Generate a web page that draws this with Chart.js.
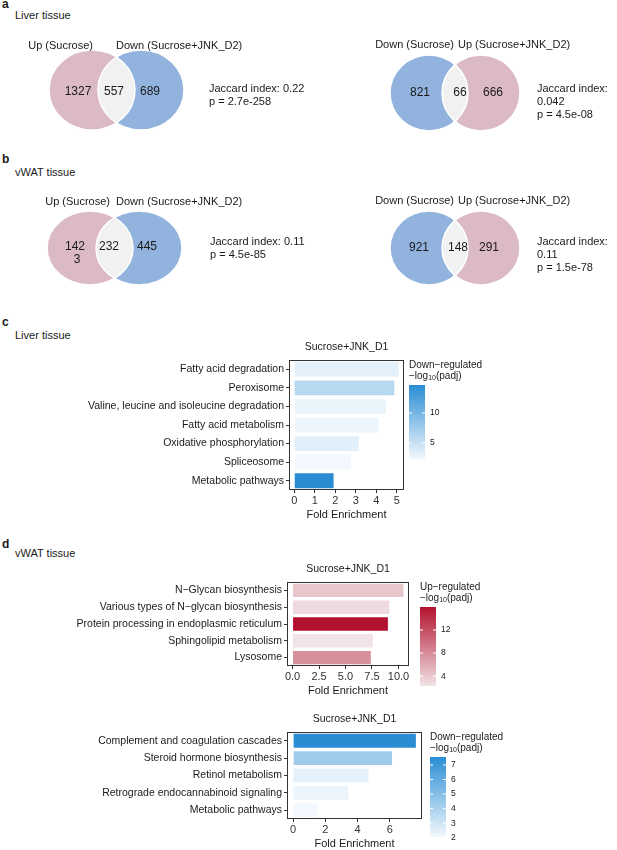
<!DOCTYPE html>
<html>
<head>
<meta charset="utf-8">
<title>Sucrose / JNK overlap and KEGG enrichment</title>
<script src="https://cdn.jsdelivr.net/npm/chart.js@4.4.1/dist/chart.umd.min.js"></script>
<style>
  body { margin: 0; background: #fff; }
  #fig { position: relative; width: 617px; height: 850px; overflow: hidden;
         font-family: "Liberation Sans", Arial, sans-serif; color: #1a1a1a; }
  #fig canvas { position: absolute; left: 0; }
  .txt { position: absolute; font-size: 11px; line-height: 13px; white-space: nowrap; }
  .tag { position: absolute; font-size: 12px; font-weight: bold; line-height: 14px; }
</style>
</head>
<body>
<div id="fig">
  <div class="tag" style="left:2px;top:-3px">a</div>
  <div class="txt" style="left:15px;top:9px">Liver tissue</div>
  <div class="tag" style="left:2px;top:152px">b</div>
  <div class="txt" style="left:15px;top:166px">vWAT tissue</div>
  <div class="tag" style="left:2px;top:315px">c</div>
  <div class="txt" style="left:15px;top:329px">Liver tissue</div>
  <div class="tag" style="left:2px;top:537px">d</div>
  <div class="txt" style="left:15px;top:547px">vWAT tissue</div>

  <canvas id="venn" width="617" height="330" style="top:0"></canvas>
  <canvas id="liverKegg" width="617" height="192" style="top:330px"></canvas>
  <canvas id="vwatUpKegg" width="617" height="148" style="top:550px"></canvas>
  <canvas id="vwatDownKegg" width="617" height="151" style="top:700px"></canvas>
</div>

<script>
// ---- a / b: gene overlaps (only first set, shared, only second set)
const vennSetNames = [
    ['Up (Sucrose)', 'Down (Sucrose+JNK_D2)'],
    ['Down (Sucrose)', 'Up (Sucrose+JNK_D2)'],
    ['Up (Sucrose)', 'Down (Sucrose+JNK_D2)'],
    ['Down (Sucrose)', 'Up (Sucrose+JNK_D2)']
];
const liverUpVsDown = [1327, 557, 689];
const liverDownVsUp = [821, 66, 666];
const vwatUpVsDown = [1423, 232, 445];
const vwatDownVsUp = [921, 148, 291];
const jaccardIndex = ['0.22', '0.042', '0.11', '0.11'];
const pValue = ['2.7e-258', '4.5e-08', '4.5e-85', '1.5e-78'];

// ---- c / d: KEGG enrichment
const liverTerms = ['Fatty acid degradation', 'Peroxisome', 'Valine, leucine and isoleucine degradation',
    'Fatty acid metabolism', 'Oxidative phosphorylation', 'Spliceosome', 'Metabolic pathways'];
const liverFold = [5.1, 4.88, 4.47, 4.1, 3.14, 2.75, 1.92];
const liverPadj = [3.1, 6.0, 2.8, 2.7, 3.4, 2.3, 14.7];

const vwatUpTerms = ['N\u2212Glycan biosynthesis', 'Various types of N\u2212glycan biosynthesis',
    'Protein processing in endoplasmic reticulum', 'Sphingolipid metabolism', 'Lysosome'];
const vwatUpFold = [10.47, 9.15, 9.0, 7.58, 7.39];
const vwatUpPadj = [4.2, 2.8, 16.0, 2.3, 7.8];

const vwatDownTerms = ['Complement and coagulation cascades', 'Steroid hormone biosynthesis',
    'Retinol metabolism', 'Retrograde endocannabinoid signaling', 'Metabolic pathways'];
const vwatDownFold = [7.62, 6.14, 4.68, 3.43, 1.52];
const vwatDownPadj = [7.55, 4.3, 2.4, 2.2, 2.05];

const liverTicks = [0, 1, 2, 3, 4, 5];
const vwatUpTicks = [0, 2.5, 5, 7.5, 10];
const vwatDownTicks = [0, 2, 4, 6];
const liverBreaks = [5, 10];
const vwatUpBreaks = [4, 8, 12];
const vwatDownBreaks = [2, 3, 4, 5, 6, 7];

const FONT = '"Liberation Sans", Arial, sans-serif';
const PINK = '#dbbac6';
const BLUE = '#91b3dd';
const SHARED = '#f1f1f1';

// where each diagram sits on the venn canvas (pixel-like units)
const vennLayout = [
    {cx: [92, 141], rx: 43, cy: 90, ry: 40, labelY: 46, labelEnd: 93, labelStart: 116,
     num: [[78, 92], [114, 92], [150, 92]], text: [209, 81.5], wrapText: false},
    {cx: [429, 481], rx: 39, cy: 93, ry: 38, labelY: 45, labelEnd: 454, labelStart: 458,
     num: [[420, 93], [460, 93], [493, 93]], text: [537, 81.5], wrapText: true},
    {cx: [90, 139], rx: 43, cy: 248, ry: 37, labelY: 202, labelEnd: 110, labelStart: 116,
     num: [[75, 247], [109, 247], [147, 247]], text: [210, 234.5], wrapText: false, wrapFirst: 3},
    {cx: [429, 481], rx: 39, cy: 248, ry: 37, labelY: 201, labelEnd: 454, labelStart: 458,
     num: [[419, 248], [458, 248], [489, 248]], text: [537, 234.5], wrapText: true}
];
const vennCounts = [liverUpVsDown, liverDownVsUp, vwatUpVsDown, vwatDownVsUp];

function hex(c) { return [1, 3, 5].map(i => parseInt(c.slice(i, i + 2), 16)); }
function mix(lo, hi, t) {
    const a = hex(lo), b = hex(hi);
    return 'rgb(' + a.map((v, i) => Math.round(v + (b[i] - v) * t)).join(',') + ')';
}
function setColour(name) { return name.startsWith('Up') ? PINK : BLUE; }

function ellipse(ctx, x, y, rx, ry) {
    ctx.beginPath();
    ctx.ellipse(x, y, rx, ry, 0, 0, Math.PI * 2);
}

const vennPlugin = {
    id: 'vennShapes',
    beforeDatasetsDraw(chart) {
        const {ctx, scales: {x, y}} = chart;
        ctx.save();
        vennLayout.forEach((v, i) => {
            const cy = y.getPixelForValue(v.cy);
            const ry = Math.abs(y.getPixelForValue(v.ry) - y.getPixelForValue(0));
            const rx = x.getPixelForValue(v.rx) - x.getPixelForValue(0);
            const ax = x.getPixelForValue(v.cx[0]), bx = x.getPixelForValue(v.cx[1]);
            ctx.fillStyle = setColour(vennSetNames[i][0]);
            ellipse(ctx, ax, cy, rx, ry); ctx.fill();
            ctx.fillStyle = setColour(vennSetNames[i][1]);
            ellipse(ctx, bx, cy, rx, ry); ctx.fill();
            ctx.save();
            ellipse(ctx, ax, cy, rx, ry); ctx.clip();
            ctx.fillStyle = SHARED;
            ellipse(ctx, bx, cy, rx, ry); ctx.fill();
            ctx.restore();
            ctx.strokeStyle = '#fff';
            ctx.lineWidth = 1.5;
            ellipse(ctx, ax, cy, rx, ry); ctx.stroke();
            ellipse(ctx, bx, cy, rx, ry); ctx.stroke();

            ctx.fillStyle = '#1a1a1a';
            ctx.font = '11px ' + FONT;
            ctx.textBaseline = 'middle';
            const ly = y.getPixelForValue(v.labelY);
            ctx.textAlign = 'right';
            ctx.fillText(vennSetNames[i][0], x.getPixelForValue(v.labelEnd), ly);
            ctx.textAlign = 'left';
            ctx.fillText(vennSetNames[i][1], x.getPixelForValue(v.labelStart), ly);
        });
        ctx.restore();
    },
    afterDatasetsDraw(chart) {
        const {ctx} = chart;
        ctx.save();
        ctx.fillStyle = '#1a1a1a';
        ctx.font = '12px ' + FONT;
        ctx.textAlign = 'center';
        ctx.textBaseline = 'middle';
        vennLayout.forEach((v, i) => {
            chart.getDatasetMeta(i).data.forEach((pt, j) => {
                const s = String(vennCounts[i][j]);
                if (j === 0 && v.wrapFirst) {
                    ctx.fillText(s.slice(0, v.wrapFirst), pt.x, pt.y);
                    ctx.fillText(s.slice(v.wrapFirst), pt.x + 2, pt.y + 13);
                } else {
                    ctx.fillText(s, pt.x, pt.y);
                }
            });
        });
        ctx.restore();
    }
};

new Chart(document.getElementById('venn'), {
    type: 'scatter',
    data: {
        datasets: vennLayout.map(v => ({
            data: v.num.map(p => ({x: p[0], y: p[1]})),
            pointRadius: 0
        }))
    },
    options: {
        responsive: false,
        animation: false,
        events: [],
        layout: {padding: 0},
        plugins: {legend: {display: false}, tooltip: {enabled: false}},
        scales: {
            x: {type: 'linear', min: 0, max: 617, display: false},
            y: {type: 'linear', min: 0, max: 330, reverse: true, display: false}
        }
    },
    plugins: [vennPlugin]
});

// Jaccard / p-value notes next to each diagram
vennLayout.forEach((v, i) => {
    const d = document.createElement('div');
    d.className = 'txt';
    d.style.left = v.text[0] + 'px';
    d.style.top = v.text[1] + 'px';
    d.innerHTML = v.wrapText
        ? 'Jaccard index:<br>' + jaccardIndex[i] + '<br>p = ' + pValue[i]
        : 'Jaccard index: ' + jaccardIndex[i] + '<br>p = ' + pValue[i];
    document.getElementById('fig').appendChild(d);
});

// panel frame, panel title and the colour bar legend
const framePlugin = {
    id: 'frame',
    afterDraw(chart, args, o) {
        const {ctx, chartArea: a} = chart;
        ctx.save();
        ctx.strokeStyle = '#333';
        ctx.lineWidth = 1;
        ctx.strokeRect(a.left + 0.5, a.top + 0.5, a.right - a.left - 1, a.bottom - a.top - 1);

        ctx.fillStyle = '#1a1a1a';
        ctx.font = '10.5px ' + FONT;
        ctx.textAlign = 'center';
        ctx.textBaseline = 'middle';
        ctx.fillText(o.title, (a.left + a.right) / 2, a.top - 13);

        const x0 = a.right + o.barX, y0 = a.top + 25;
        ctx.textAlign = 'left';
        ctx.font = '10px ' + FONT;
        ctx.fillText(o.legend, x0, a.top + 5);
        let tx = x0;
        const ly = a.top + 16;
        ctx.fillText('\u2212log', tx, ly);
        tx += ctx.measureText('\u2212log').width;
        ctx.font = '7px ' + FONT;
        ctx.fillText('10', tx, ly + 2);
        tx += ctx.measureText('10').width;
        ctx.font = '10px ' + FONT;
        ctx.fillText('(padj)', tx, ly);

        const g = ctx.createLinearGradient(0, y0, 0, y0 + o.barH);
        g.addColorStop(0, o.high);
        g.addColorStop(1, o.low);
        ctx.fillStyle = g;
        ctx.fillRect(x0, y0, 16, o.barH);

        ctx.strokeStyle = '#fff';
        ctx.fillStyle = '#1a1a1a';
        ctx.font = '8.5px ' + FONT;
        o.breaks.forEach(b => {
            const yy = y0 + o.barH * (o.hi - b) / (o.hi - o.lo);
            ctx.beginPath();
            ctx.moveTo(x0, yy); ctx.lineTo(x0 + 3, yy);
            ctx.moveTo(x0 + 13, yy); ctx.lineTo(x0 + 16, yy);
            ctx.stroke();
            ctx.fillText(String(b), x0 + 21, yy);
        });
        ctx.restore();
    }
};

function enrichment(id, terms, fold, padj, o) {
    const lo = Math.min(...padj), hi = Math.max(...padj);
    const top = Math.max(...fold);
    const fill = padj.map(v => mix(o.low, o.high, (v - lo) / (hi - lo)));
    return new Chart(document.getElementById(id), {
        type: 'bar',
        data: {
            labels: terms,
            datasets: [{data: fold, backgroundColor: fill, barPercentage: 0.8, categoryPercentage: 1}]
        },
        options: {
            indexAxis: 'y',
            responsive: false,
            animation: false,
            events: [],
            layout: {padding: {top: o.padTop, right: o.padRight, left: 0, bottom: 0}},
            plugins: {
                legend: {display: false},
                tooltip: {enabled: false},
                frame: {title: 'Sucrose+JNK_D1', legend: o.legend, lo: lo, hi: hi, low: o.low, high: o.high,
                        breaks: o.breaks, barX: o.barX, barH: o.barH}
            },
            scales: {
                x: {
                    type: 'linear',
                    min: -0.05 * top,
                    max: 1.05 * top,
                    afterBuildTicks: s => { s.ticks = o.ticks.map(v => ({value: v})); },
                    afterFit: s => { s.height = 32; },
                    ticks: {font: {family: FONT, size: 11}, color: '#333', padding: 1,
                            maxRotation: 0, autoSkip: false, callback: v => o.fmt(v)},
                    grid: {drawOnChartArea: false, drawTicks: true, tickLength: 3, color: '#333'},
                    border: {display: false},
                    title: {display: true, text: 'Fold Enrichment', color: '#1a1a1a',
                            font: {family: FONT, size: 11}, padding: {top: 0, bottom: 0}}
                },
                y: {
                    afterFit: s => { s.width = o.left; },
                    ticks: {font: {family: FONT, size: 10.5}, color: '#1a1a1a', padding: 2, autoSkip: false},
                    grid: {offset: false, drawOnChartArea: false, drawTicks: true, tickLength: 3, color: '#333'},
                    border: {display: false}
                }
            }
        },
        plugins: [framePlugin]
    });
}

enrichment('liverKegg', liverTerms, liverFold, liverPadj, {
    low: '#f2f8fd', high: '#2a8dd4', legend: 'Down\u2212regulated', breaks: liverBreaks,
    ticks: liverTicks, fmt: v => String(v), left: 289, padTop: 30, padRight: 213, barX: 5, barH: 74
});
enrichment('vwatUpKegg', vwatUpTerms, vwatUpFold, vwatUpPadj, {
    low: '#f1e3e6', high: '#b3112e', legend: 'Up\u2212regulated', breaks: vwatUpBreaks,
    ticks: vwatUpTicks, fmt: v => v.toFixed(1), left: 287, padTop: 32, padRight: 208, barX: 11, barH: 79
});
enrichment('vwatDownKegg', vwatDownTerms, vwatDownFold, vwatDownPadj, {
    low: '#f2f8fd', high: '#2a8dd4', legend: 'Down\u2212regulated', breaks: vwatDownBreaks,
    ticks: vwatDownTicks, fmt: v => String(v), left: 287, padTop: 32, padRight: 195, barX: 8, barH: 80
});
</script>
</body>
</html>
